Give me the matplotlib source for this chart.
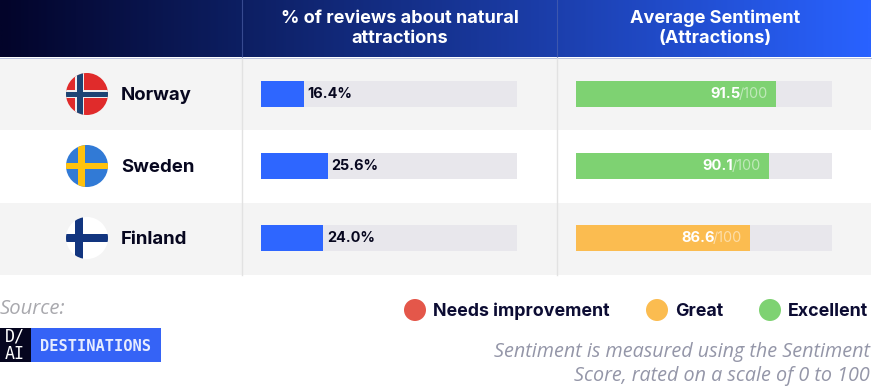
import numpy as np
import matplotlib
matplotlib.use("Agg")
import matplotlib.pyplot as plt
from matplotlib.patches import Circle, Rectangle
from matplotlib.colors import LinearSegmentedColormap

# ── Data ──────────────────────────────────────────────────────────────────────
countries = ["Norway", "Sweden", "Finland"]
review_share = [16.4, 25.6, 24.0]
sentiment = [91.5, 90.1, 86.6]
sentiment_colors = ["#7ED272", "#7ED272", "#FBBC50"]
headers = [["% of reviews about natural", "attractions"], ["Average Sentiment", "(Attractions)"]]
legend_labels = ["Needs improvement", "Great", "Excellent"]
legend_colors = ["#E4574A", "#FBBC50", "#7ED272"]
note_lines = ["Sentiment is measured using the Sentiment", "Score, rated on a scale of 0 to 100"]

W, H = 880, 389
plt.rcParams["font.family"] = ["Inter", "DejaVu Sans"]

fig = plt.figure(figsize=(W / 100, H / 100), dpi=100, facecolor="white")
bg = fig.add_axes([0, 0, 1, 1])
bg.set_xlim(0, W)
bg.set_ylim(H, 0)
bg.axis("off")


def sub_axes(x0, y0, x1, y1):
    ax = fig.add_axes([x0 / W, 1 - y1 / H, (x1 - x0) / W, (y1 - y0) / H])
    ax.axis("off")
    return ax


# ── Header band ───────────────────────────────────────────────────────────────
cmap = LinearSegmentedColormap.from_list(
    "head", [(0, "#03042A"), (0.28, "#0D1F63"), (0.62, "#1B3DA8"), (1, "#2962FF")]
)
bg.imshow(np.linspace(0, 1, 400)[None, :], cmap=cmap, aspect="auto",
          extent=(0, 871, 57, 0), zorder=1)
bg.set_xlim(0, W)
bg.set_ylim(H, 0)
bg.plot([0, 871], [57.5, 57.5], color="#8090C8", lw=0.7, alpha=0.5, zorder=2)

for cx, lines in zip([399.5, 715], headers):
    for y, line in zip([23.4, 42.7], lines):
        bg.text(cx, y, line, color="white", fontsize=13.05, fontweight="bold",
                ha="center", va="baseline", zorder=3)

# ── Rows ──────────────────────────────────────────────────────────────────────
row_tops = [58, 131, 203]
row_h = 72.3
row_bg = ["#F4F4F4", "#FFFFFF", "#F4F4F4"]
for top, c in zip(row_tops, row_bg):
    bg.add_patch(Rectangle((0, top), 871, row_h, color=c, lw=0, zorder=1))
for x in [242, 557]:
    bg.plot([x, x], [58, 275.3], color="#E2E2E2", lw=1, zorder=2)
    bg.plot([x, x], [0, 57], color="#5468B0", lw=0.8, alpha=0.6, zorder=2)


def clipped(patch, circ):
    bg.add_patch(patch)
    patch.set_clip_path(circ)


def draw_flag(name, cx, cy, r=21):
    circ = Circle((cx, cy), r, transform=bg.transData)
    base = {"Norway": "#E02B2B", "Sweden": "#317AD6", "Finland": "#FFFFFF"}[name]
    bg.add_patch(Circle((cx, cy), r, color=base, lw=0, zorder=3))
    if name == "Norway":
        crosses = [(-7.5, 9.5, "#EFEFEF"), (-7.5, 6, "#1D4474")]
    elif name == "Sweden":
        crosses = [(-5.5, 6.8, "#FFC20E")]
    else:
        crosses = [(-8, 7.5, "#12357F")]
    for off, w, c in crosses:
        clipped(Rectangle((cx + off - w / 2, cy - r), w, 2 * r, color=c, lw=0, zorder=4), circ)
        hw = w - 1 if name == "Norway" else w
        clipped(Rectangle((cx - r, cy - hw / 2), 2 * r, hw, color=c, lw=0, zorder=4), circ)


bar_h = 26
track = "#E8E7EC"
share_max = 98.5
sent_min, sent_max = 53.7, 102
ax_share = sub_axes(261, 0, 517, H)
ax_share.set_xlim(0, share_max)
ax_share.set_ylim(H, 0)
ax_sent = sub_axes(576, 0, 832, H)
ax_sent.set_xlim(sent_min, sent_max)
ax_sent.set_ylim(H, 0)
centers = [94, 166, 238]

for i, name in enumerate(countries):
    cy = centers[i]
    draw_flag(name, 87, cy)
    bg.text(121, cy + 5.5, name, fontsize=13.4, fontweight="bold", color="#07071F",
            ha="left", va="baseline", zorder=5)

    ax_share.barh(cy, share_max, height=bar_h, color=track, lw=0)
    ax_share.barh(cy, review_share[i], height=bar_h, color="#2E66FF", lw=0)
    ax_share.annotate(f"{review_share[i]:.1f}%", (review_share[i], cy + 3.7), xytext=(4, 0),
                      textcoords="offset pixels", fontsize=10.4, fontweight="bold",
                      color="#07071F", va="baseline", ha="left")

    ax_sent.barh(cy, sent_max - sent_min, left=sent_min, height=bar_h, color=track, lw=0)
    ax_sent.barh(cy, sentiment[i] - sent_min, left=sent_min, height=bar_h, color=sentiment_colors[i], lw=0)
    ax_sent.annotate("/100", (sentiment[i], cy + 3.7), xytext=(-8, 0),
                     textcoords="offset pixels", fontsize=10.4, color="white", alpha=0.5,
                     va="baseline", ha="right")
    ax_sent.annotate(f"{sentiment[i]:.1f}", (sentiment[i], cy + 3.7), xytext=(-36, 0),
                     textcoords="offset pixels", fontsize=10.6, fontweight="bold", color="white",
                     va="baseline", ha="right")

# ── Footer ────────────────────────────────────────────────────────────────────
bg.text(0, 314, "Source:", fontsize=14.6, style="italic", color="#A9A9AE",
        family="Open Sans", ha="left", va="baseline")
bg.add_patch(Rectangle((0, 328), 30.5, 34, color="#05051F", lw=0))
bg.add_patch(Rectangle((30.5, 328), 130, 34, color="#3563F6", lw=0))
bg.text(15, 345, "D/\nAI", fontsize=12, color="white", family="DejaVu Sans Mono",
        ha="center", va="center", linespacing=0.95)
bg.text(40, 350.7, "DESTINATIONS", fontsize=11.1, fontweight="bold", color="#E6ECFF",
        family="DejaVu Sans Mono", ha="left", va="baseline")

for cx, tx, label, c in zip([415, 657, 770], [433, 675, 788], legend_labels, legend_colors):
    bg.add_patch(Circle((cx, 310), 11, color=c, lw=0))
    bg.text(tx, 315.6, label, fontsize=12.85, fontweight="bold", color="#0C0C33",
            ha="left", va="baseline")

for y, line in zip([357.3, 381], note_lines):
    bg.text(870, y, line, fontsize=14.2, style="italic", color="#9496A8",
            family="Open Sans", ha="right", va="baseline")

fig.savefig("out.png", dpi=100)
